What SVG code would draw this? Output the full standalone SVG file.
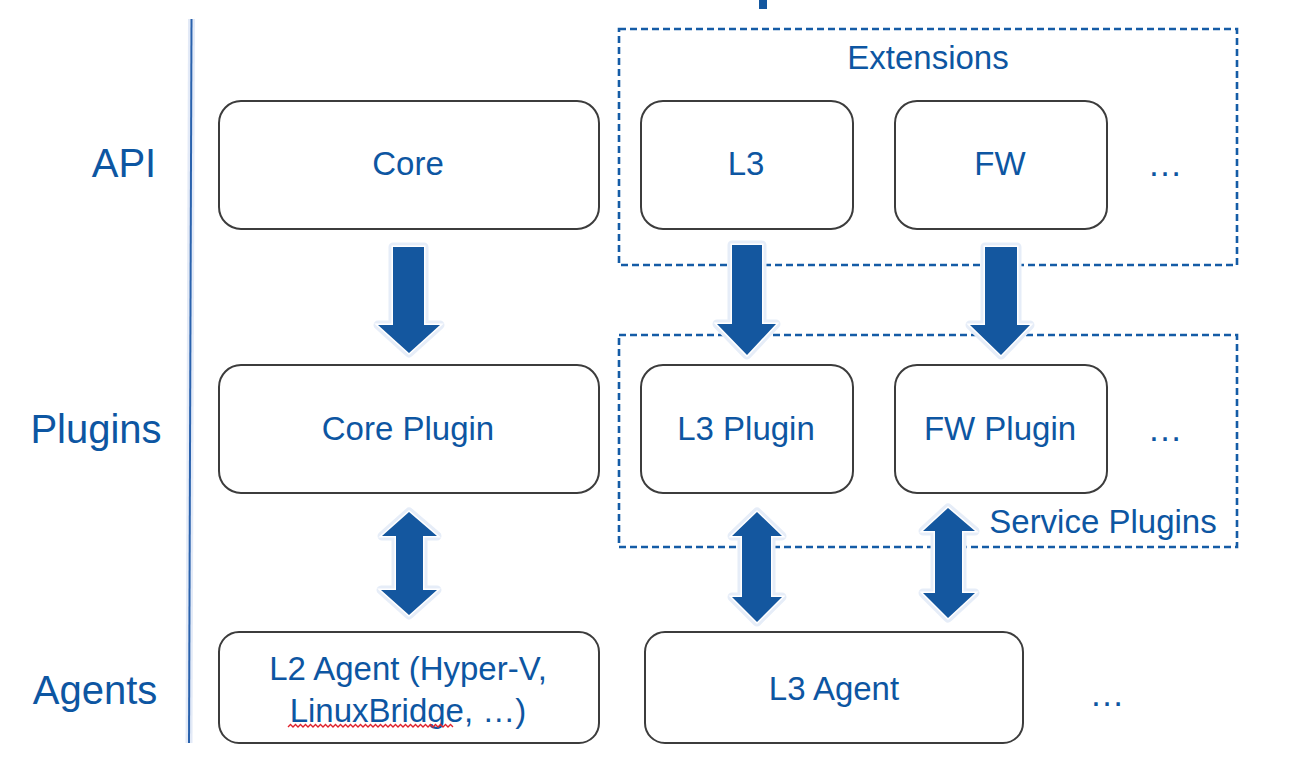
<svg xmlns="http://www.w3.org/2000/svg" width="1294" height="758" viewBox="0 0 1294 758">
<defs>
<style>
.box{fill:#fff;stroke:#3c3c3c;stroke-width:2}
.t{font-family:"Liberation Sans",Arial,sans-serif;fill:#0d56a2;text-anchor:middle}
.bt{font-size:33px}
.el{font-size:35px}
.lab{font-size:40px}
.dash{fill:none;stroke:#155ca6;stroke-width:2.6;stroke-dasharray:7 4}
.glow{fill:#dfe7f6;stroke:#e6edf8;stroke-width:9;stroke-linejoin:round}
.edge{fill:#fff;stroke:#fff;stroke-width:3;stroke-linejoin:miter}
.arr{fill:#14579f}
</style>
</defs>
<rect width="1294" height="758" fill="#fff"/>
<rect x="759" y="0" width="8" height="9" fill="#14579f"/>
<g id="axis">
<line x1="191.5" y1="19" x2="189" y2="743" stroke="#e3eaf7" stroke-width="7"/>
<line x1="191.5" y1="19" x2="189" y2="743" stroke="#2a62ad" stroke-width="2"/>
</g>
<g id="labels">
<text class="t lab" x="124" y="177">API</text>
<text class="t lab" x="96" y="443">Plugins</text>
<text class="t lab" x="95" y="704">Agents</text>
</g>
<g id="extensions">
<rect class="dash" x="619" y="29" width="618" height="236"/>
<text class="t bt" x="928" y="69">Extensions</text>
</g>
<g id="service-plugins">
<rect class="dash" x="619" y="335" width="618" height="212"/>
<text class="t bt" x="1103" y="533">Service Plugins</text>
</g>
<g id="core"><rect class="box" x="219" y="101" width="380" height="128" rx="22"/><text class="t bt" x="408" y="175">Core</text></g>
<g id="l3"><rect class="box" x="641" y="101" width="212" height="128" rx="22"/><text class="t bt" x="746" y="175">L3</text></g>
<g id="fw"><rect class="box" x="895" y="101" width="212" height="128" rx="22"/><text class="t bt" x="1000" y="175">FW</text></g>
<g id="api-more"><text class="t el" x="1165" y="176">…</text></g>
<g id="core-plugin"><rect class="box" x="219" y="365" width="380" height="128" rx="22"/><text class="t bt" x="408" y="440">Core Plugin</text></g>
<g id="l3-plugin"><rect class="box" x="641" y="365" width="212" height="128" rx="22"/><text class="t bt" x="746" y="440">L3 Plugin</text></g>
<g id="fw-plugin"><rect class="box" x="895" y="365" width="212" height="128" rx="22"/><text class="t bt" x="1000" y="440">FW Plugin</text></g>
<g id="plugins-more"><text class="t el" x="1165" y="441">…</text></g>
<g id="l2-agent"><rect class="box" x="219" y="632" width="380" height="111" rx="20"/>
<text class="t bt" x="408" y="680">L2 Agent (Hyper-V,</text>
<text class="t bt" x="408" y="722">LinuxBridge, …)</text>
<path d="M288 727 l2.5 -2.5 2.5 2.5 2.5 -2.5 2.5 2.5 2.5 -2.5 2.5 2.5 2.5 -2.5 2.5 2.5 2.5 -2.5 2.5 2.5 2.5 -2.5 2.5 2.5 2.5 -2.5 2.5 2.5 2.5 -2.5 2.5 2.5 2.5 -2.5 2.5 2.5 2.5 -2.5 2.5 2.5 2.5 -2.5 2.5 2.5 2.5 -2.5 2.5 2.5 2.5 -2.5 2.5 2.5 2.5 -2.5 2.5 2.5 2.5 -2.5 2.5 2.5 2.5 -2.5 2.5 2.5 2.5 -2.5 2.5 2.5 2.5 -2.5 2.5 2.5 2.5 -2.5 2.5 2.5 2.5 -2.5 2.5 2.5 2.5 -2.5 2.5 2.5 2.5 -2.5 2.5 2.5 2.5 -2.5 2.5 2.5 2.5 -2.5 2.5 2.5 2.5 -2.5 2.5 2.5 2.5 -2.5 2.5 2.5 2.5 -2.5 2.5 2.5 2.5 -2.5 2.5 2.5 2.5 -2.5 2.5 2.5 2.5 -2.5 2.5 2.5 2.5 -2.5 2.5 2.5 2.5 -2.5 2.5 2.5 2.5 -2.5 2.5 2.5" fill="none" stroke="#e0202a" stroke-width="1.3"/>
</g>
<g id="l3-agent"><rect class="box" x="645" y="632" width="378" height="111" rx="20"/><text class="t bt" x="834" y="700">L3 Agent</text></g>
<g id="agents-more"><text class="t el" x="1107" y="706">…</text></g>
<g id="connectors">
<g id="a1">
<polygon class="glow" points="393,247 424,247 424,325 440,325 409,353 378,325 393,325"/>
<polygon class="edge" points="393,247 424,247 424,325 440,325 409,353 378,325 393,325"/>
<polygon class="arr" points="393,247 424,247 424,325 440,325 409,353 378,325 393,325"/>
</g>
<g id="a2">
<polygon class="glow" points="732,245 762,245 762,324 776,324 747,355 717,324 732,324"/>
<polygon class="edge" points="732,245 762,245 762,324 776,324 747,355 717,324 732,324"/>
<polygon class="arr" points="732,245 762,245 762,324 776,324 747,355 717,324 732,324"/>
</g>
<g id="a3">
<polygon class="glow" points="985,247 1017,247 1017,325 1030,325 1001,355 970,325 985,325"/>
<polygon class="edge" points="985,247 1017,247 1017,325 1030,325 1001,355 970,325 985,325"/>
<polygon class="arr" points="985,247 1017,247 1017,325 1030,325 1001,355 970,325 985,325"/>
</g>
<g id="a4">
<polygon class="glow" points="409,512 437,536 423,536 423,590 437,590 409,615 381,590 396,590 396,536 382,536"/>
<polygon class="edge" points="409,512 437,536 423,536 423,590 437,590 409,615 381,590 396,590 396,536 382,536"/>
<polygon class="arr" points="409,512 437,536 423,536 423,590 437,590 409,615 381,590 396,590 396,536 382,536"/>
</g>
<g id="a5">
<polygon class="glow" points="757,512 782,536 771,536 771,597 782,597 757,622 732,597 742,597 742,536 732,536"/>
<polygon class="edge" points="757,512 782,536 771,536 771,597 782,597 757,622 732,597 742,597 742,536 732,536"/>
<polygon class="arr" points="757,512 782,536 771,536 771,597 782,597 757,622 732,597 742,597 742,536 732,536"/>
</g>
<g id="a6">
<polygon class="glow" points="948,508 975,531 962,531 962,593 975,593 948,618 923,593 935,593 935,531 923,531"/>
<polygon class="edge" points="948,508 975,531 962,531 962,593 975,593 948,618 923,593 935,593 935,531 923,531"/>
<polygon class="arr" points="948,508 975,531 962,531 962,593 975,593 948,618 923,593 935,593 935,531 923,531"/>
</g>
</g>
</svg>
